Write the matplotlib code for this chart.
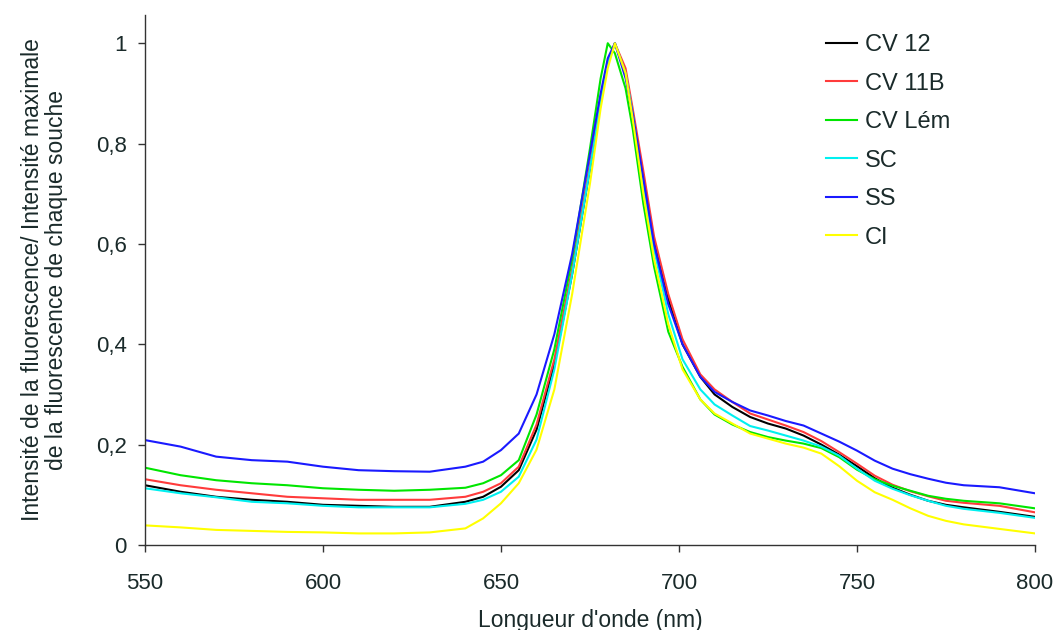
import matplotlib
matplotlib.use('Agg')
import matplotlib.pyplot as plt

plt.rcParams['font.family'] = ['Liberation Sans', 'DejaVu Sans']

# wavelengths (nm)
wl = [550, 560, 570, 580, 590, 600, 610, 620, 630, 640, 645, 650, 655,
      660, 665, 670, 675, 678, 680, 682, 685, 687, 690, 693, 697, 701,
      706, 710, 715, 720, 725, 730, 735, 740, 745, 750, 755, 760, 765,
      770, 775, 780, 790, 800]

cv12 = [0.119, 0.106, 0.096, 0.090, 0.086, 0.080, 0.078, 0.076, 0.076, 0.086, 0.096, 0.116, 0.149,
        0.23, 0.36, 0.54, 0.75, 0.88, 0.96, 1.0, 0.94, 0.86, 0.735, 0.605, 0.49, 0.40,
        0.335, 0.30, 0.275, 0.255, 0.242, 0.232, 0.218, 0.200, 0.180, 0.157, 0.133, 0.114, 0.100,
        0.088, 0.080, 0.075, 0.066, 0.056]
cv11b = [0.131, 0.119, 0.110, 0.103, 0.096, 0.093, 0.090, 0.090, 0.090, 0.096, 0.106, 0.123, 0.156,
         0.24, 0.37, 0.55, 0.76, 0.89, 0.96, 1.0, 0.95, 0.87, 0.745, 0.615, 0.50, 0.41,
         0.34, 0.31, 0.285, 0.262, 0.25, 0.238, 0.225, 0.207, 0.185, 0.162, 0.138, 0.120, 0.107,
         0.097, 0.088, 0.084, 0.078, 0.065]
cvlem = [0.154, 0.139, 0.129, 0.123, 0.119, 0.113, 0.110, 0.108, 0.110, 0.114, 0.123, 0.139, 0.169,
         0.26, 0.39, 0.57, 0.79, 0.93, 1.0, 0.98, 0.91, 0.83, 0.68, 0.555, 0.425, 0.355,
         0.29, 0.26, 0.24, 0.225, 0.215, 0.208, 0.202, 0.193, 0.175, 0.150, 0.131, 0.118, 0.108,
         0.098, 0.092, 0.088, 0.083, 0.073]
sc = [0.113, 0.103, 0.095, 0.086, 0.083, 0.078, 0.075, 0.075, 0.075, 0.082, 0.090, 0.106, 0.136,
      0.21, 0.35, 0.54, 0.75, 0.88, 0.96, 1.0, 0.94, 0.86, 0.72, 0.59, 0.46, 0.37,
      0.31, 0.28, 0.258, 0.237, 0.228, 0.218, 0.208, 0.196, 0.178, 0.152, 0.128, 0.112, 0.099,
      0.088, 0.078, 0.072, 0.064, 0.054]
ss = [0.209, 0.196, 0.176, 0.169, 0.166, 0.156, 0.149, 0.147, 0.146, 0.156, 0.166, 0.189, 0.222,
      0.30, 0.42, 0.58, 0.78, 0.90, 0.97, 1.0, 0.93, 0.86, 0.73, 0.60, 0.48, 0.40,
      0.335, 0.305, 0.285, 0.268, 0.258, 0.247, 0.238, 0.222, 0.206, 0.188, 0.168, 0.152, 0.141,
      0.132, 0.124, 0.119, 0.115, 0.103]
ci = [0.039, 0.035, 0.030, 0.028, 0.026, 0.025, 0.023, 0.023, 0.025, 0.033, 0.053, 0.083, 0.123,
      0.19, 0.31, 0.50, 0.72, 0.87, 0.95, 1.0, 0.94, 0.85, 0.70, 0.57, 0.44, 0.35,
      0.29, 0.262, 0.242, 0.222, 0.212, 0.202, 0.194, 0.182, 0.157, 0.128, 0.105, 0.090, 0.073,
      0.058, 0.048, 0.041, 0.032, 0.023]

series = [('CV 12', cv12, '#000000'),
          ('CV 11B', cv11b, '#ff3b3b'),
          ('CV Lém', cvlem, '#00e600'),
          ('SC', sc, '#00f0f0'),
          ('SS', ss, '#1a1aff'),
          ('CI', ci, '#ffff00')]

fig = plt.figure(figsize=(10.55, 6.3), dpi=100)
ax = fig.add_axes([0.1374, 0.135, 0.8436, 0.841])

for name, vals, col in series:
    ax.plot(wl, vals, color=col, lw=1.5, label=name)

ax.set_xlim(550, 800)
ax.set_ylim(0, 1.056)
ax.set_xticks([550, 600, 650, 700, 750, 800])
ax.set_yticks([0, 0.2, 0.4, 0.6, 0.8, 1.0])
ax.set_yticklabels(['0', '0,2', '0,4', '0,6', '0,8', '1'])
for s in ['top', 'right']:
    ax.spines[s].set_visible(False)
for s in ['left', 'bottom']:
    ax.spines[s].set_color('#333333')
    ax.spines[s].set_linewidth(1.0)
ax.tick_params(direction='out', length=5, width=1, colors='#333333',
               labelcolor='#1a2a2a', labelsize=16)
ax.tick_params(axis='x', pad=15)
ax.tick_params(axis='y', pad=8)

ax.set_xlabel("Longueur d'onde (nm)", fontsize=16.5, color='#1a2a2a', labelpad=11)
ax.set_ylabel("Intensité de la fluorescence/ Intensité maximale\nde la fluorescence de chaque souche",
              fontsize=16.5, color='#1a2a2a', labelpad=20, linespacing=1.05)

ax.legend(loc='upper left', bbox_to_anchor=(0.783, 0.946), bbox_transform=fig.transFigure,
          frameon=False, fontsize=17, handlelength=1.3, handletextpad=0.35,
          labelspacing=0.70, borderpad=0, borderaxespad=0, labelcolor='#1a2a2a')

fig.savefig('out.png', dpi=100)
